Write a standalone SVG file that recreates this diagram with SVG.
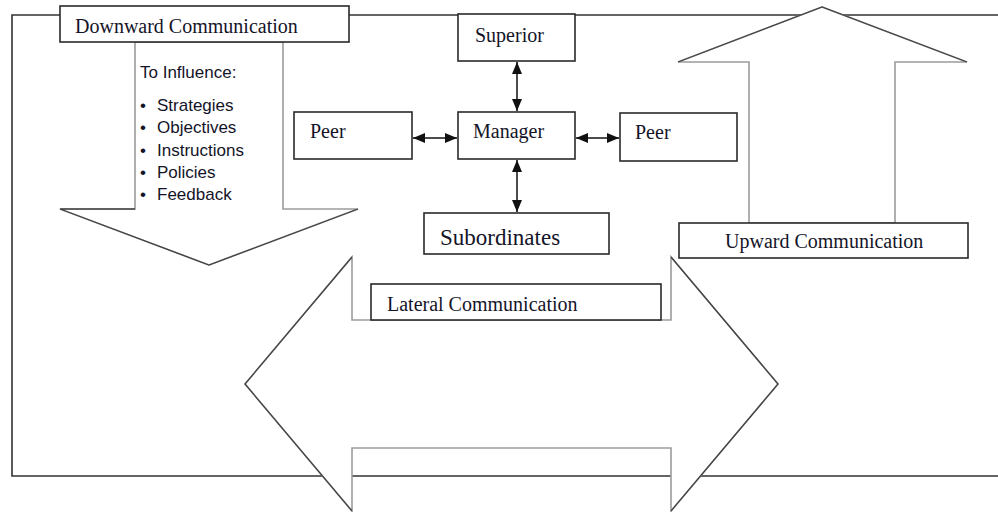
<svg xmlns="http://www.w3.org/2000/svg" width="998" height="512" viewBox="0 0 998 512">
<style>
.box{fill:#fff;stroke:#2a2a2a;stroke-width:1.6}
.shape{fill:#fff;stroke:#9c9c9c;stroke-width:1.6}
.edge{fill:none;stroke:#444;stroke-width:1.3}
.frame{fill:none;stroke:#333;stroke-width:1.6}
.serif{font-family:"Liberation Serif","Times New Roman",serif;font-size:20px;fill:#141428}
.sans{font-family:"Liberation Sans",Arial,sans-serif;font-size:17px;fill:#141428}
.conn{fill:none;stroke:#111;stroke-width:1.5}
</style>
<defs>
<marker id="ah" viewBox="0 0 12 10" refX="12" refY="5" markerWidth="12" markerHeight="10" markerUnits="userSpaceOnUse" orient="auto-start-reverse">
<path d="M0,0 L12,5 L0,10 Z" fill="#111"/>
</marker>
</defs>
<rect width="998" height="512" fill="#fff"/>
<path class="frame" d="M1000,15 H12 V476 H1000"/>

<g id="downward-arrow">
<polygon class="shape" points="135,42 283,42 283,209 358,209 209,265 60,209 135,209"/>
<polyline class="edge" points="135,209 60,209 209,265 358,209"/>
<text class="sans" x="140" y="78">To Influence:</text>
<text class="sans" x="140" y="111">•</text><text class="sans" x="157" y="111">Strategies</text>
<text class="sans" x="140" y="133">•</text><text class="sans" x="157" y="133">Objectives</text>
<text class="sans" x="140" y="156">•</text><text class="sans" x="157" y="156">Instructions</text>
<text class="sans" x="140" y="178">•</text><text class="sans" x="157" y="178">Policies</text>
<text class="sans" x="140" y="200">•</text><text class="sans" x="157" y="200">Feedback</text>
</g>
<g id="downward-label">
<rect class="box" x="60" y="6" width="289" height="36"/>
<text class="serif" x="75" y="33">Downward Communication</text>
</g>

<g id="upward-arrow">
<polygon class="shape" points="822,7 967,62 895,62 895,223 749,223 749,62 678,62"/>
<polyline class="edge" points="678,62 822,7 967,62"/>
</g>
<g id="upward-label">
<rect class="box" x="679" y="223" width="289" height="35"/>
<text class="serif" x="725" y="248">Upward Communication</text>
</g>

<g id="lateral-arrow">
<polygon class="shape" points="245,384 352,257 352,320 671,320 671,257 778,384 671,511 671,448 352,448 352,511"/>
<polyline class="edge" points="352,257 245,384 352,511"/>
<polyline class="edge" points="671,257 778,384 671,511"/>
</g>
<g id="lateral-label">
<rect class="box" x="371" y="284" width="290" height="36"/>
<text class="serif" x="387" y="311">Lateral Communication</text>
</g>

<g id="superior">
<rect class="box" x="458" y="14" width="117" height="47"/>
<text class="serif" x="475" y="42">Superior</text>
</g>
<g id="manager">
<rect class="box" x="458" y="112" width="117" height="47"/>
<text class="serif" x="473" y="138">Manager</text>
</g>
<g id="peer-left">
<rect class="box" x="294" y="112" width="118" height="47"/>
<text class="serif" x="310" y="138">Peer</text>
</g>
<g id="peer-right">
<rect class="box" x="620" y="113" width="117" height="48"/>
<text class="serif" x="635" y="139">Peer</text>
</g>
<g id="subordinates">
<rect class="box" x="424" y="213" width="185" height="41"/>
<text class="serif" x="440" y="245" style="font-size:23px">Subordinates</text>
</g>

<g id="connectors">
<line class="conn" x1="517" y1="62" x2="517" y2="111" marker-start="url(#ah)" marker-end="url(#ah)"/>
<line class="conn" x1="517" y1="160" x2="517" y2="212" marker-start="url(#ah)" marker-end="url(#ah)"/>
<line class="conn" x1="413" y1="138" x2="457" y2="138" marker-start="url(#ah)" marker-end="url(#ah)"/>
<line class="conn" x1="576" y1="138" x2="619" y2="138" marker-start="url(#ah)" marker-end="url(#ah)"/>
</g>
</svg>
